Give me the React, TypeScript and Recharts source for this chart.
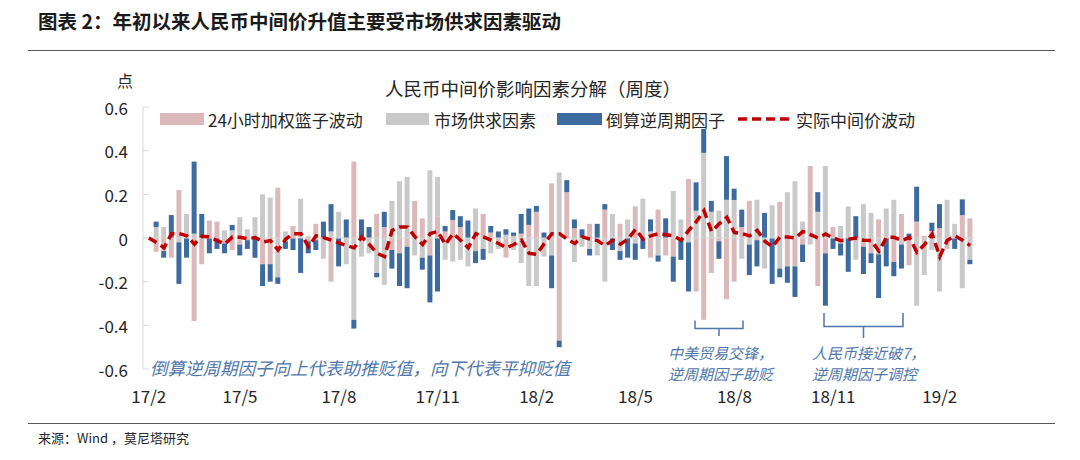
import React from "react";
import { ComposedChart, Bar, Line, XAxis, YAxis, ReferenceLine } from "recharts";

// ---- categories: weekly observations starting Feb 2017 ----
const WEEK_COUNT = 109;
const startDate = Date.UTC(2017, 1, 3);
const weeks: string[] = Array.from({ length: WEEK_COUNT }, (_, i) => {
  const d = new Date(startDate + i * 7 * 86400000);
  return `${d.getUTCFullYear()}-${String(d.getUTCMonth() + 1).padStart(2, "0")}-${String(d.getUTCDate()).padStart(2, "0")}`;
});

// ---- x tick labels and the week each label sits at ----
const xTickLabels = ["17/2", "17/5", "17/8", "17/11", "18/2", "18/5", "18/8", "18/11", "19/2"];
const xTickWeekIndex = [0, 12, 25, 38, 51, 64, 77, 90, 104];
const yTicks = [-0.6, -0.4, -0.2, 0, 0.2, 0.4, 0.6];

// ---- series ----
// 24小时加权篮子波动
const basket = [
  0, -0.063, -0.06, -0.09, 0.22, 0, -0.38, -0.12, 0.08, 0.075,
  -0.025, -0.055, -0.03, -0.01, 0, -0.12, -0.12, 0.23, -0.015, 0.055,
  0, -0.015, 0.065, 0, -0.2, 0, 0, 0.35, 0, 0,
  0.11, 0.05, -0.055, -0.07, -0.04, 0.17, 0.09, -0.08, 0.1, 0.03,
  0.082, 0.05, 0, -0.06, 0.11, 0.025, 0, -0.09, 0.01, 0.02,
  0.06, 0.12, 0, 0.25, -0.47, 0.21, 0.045, 0, 0.065, 0,
  0.13, 0, 0.065, 0, 0.145, 0, -0.09, 0.13, -0.08, -0.085,
  0, 0.27, -0.245, -0.375, -0.16, -0.015, -0.28, -0.2, 0.05, 0.17,
  -0.01, 0, 0, 0.165, -0.13, -0.13, -0.03, 0.33, -0.22, -0.07,
  0.05, -0.025, 0, 0, -0.04, -0.07, 0.085, 0, -0.11, 0.11,
  -0.125, 0.075, 0.01, 0.032, 0.045, -0.05, 0, 0.105, 0.09,
];
// 市场供求因素
const market = [
  0, 0.05, 0.05, 0, -0.02, 0.11, 0.02, 0, 0, 0,
  0.035, 0.035, 0.095, 0.04, 0.095, 0.2, 0.185, -0.18, 0.03, 0,
  0.18, 0.01, -0.01, -0.095, 0.03, 0.12, -0.12, -0.375, -0.085, -0.07,
  -0.16, -0.215, 0.17, 0.26, 0.28, -0.08, -0.09, 0.31, 0.18, -0.1,
  -0.108, -0.1, -0.13, 0.135, -0.05, -0.07, -0.05, 0.015, -0.055, -0.115,
  -0.22, -0.22, -0.085, -0.08, 0.3, 0, -0.11, -0.04, -0.05, -0.08,
  -0.2, 0.11, -0.06, 0.085, -0.025, 0.18, 0.03, -0.08, 0, 0.215,
  0.085, -0.02, 0.125, 0.39, 0.12, 0.125, 0.175, 0.174, -0.095, -0.03,
  0.175, -0.14, 0.15, -0.14, 0.21, 0.26, 0.075, -0.03, 0.12, 0.33,
  0, 0.055, 0.145, -0.1, 0.155, 0.115, -0.075, 0.135, 0.175, -0.03,
  0, -0.31, -0.17, -0.055, -0.245, 0.175, 0.065, -0.23, -0.1,
];
// 倒算逆周期因子
const counter = [
  0, 0.025, -0.03, 0.105, -0.19, -0.09, 0.33, 0.11, -0.07, -0.05,
  -0.045, 0.025, -0.05, -0.04, -0.09, -0.1, -0.08, -0.03, -0.035, -0.055,
  -0.16, -0.055, -0.045, 0.075, 0.125, -0.13, 0.085, -0.04, 0.085, 0.05,
  -0.02, 0.07, -0.085, -0.15, -0.19, 0, -0.055, -0.215, -0.245, 0.025,
  0.046, 0.05, 0.08, -0.055, -0.05, 0.03, 0.03, 0.025, 0.015, 0.09,
  0.075, 0.027, 0.025, -0.15, -0.03, 0.055, 0.04, 0.04, -0.03, 0.065,
  0.025, -0.055, -0.04, -0.09, -0.075, -0.05, 0.055, -0.028, 0.09, -0.115,
  -0.1, -0.225, 0.13, 0.11, 0.05, -0.08, 0.2, 0.052, 0.08, -0.14,
  -0.12, 0.115, -0.21, -0.04, -0.075, -0.14, -0.08, 0, 0.09, -0.24,
  -0.05, -0.055, -0.155, 0.1, -0.125, -0.045, -0.2, -0.13, -0.065, -0.11,
  0.02, 0.16, 0, 0.038, 0.11, 0, -0.05, 0.072, -0.02,
];
// 实际中间价波动
const actual = [
  0, -0.02, -0.045, 0.02, 0.02, 0.01, -0.028, 0.008, 0.005, -0.012,
  -0.028, 0.005, 0.003, -0.003, 0.002, -0.018, -0.012, -0.055, -0.005, 0.02,
  0.02, -0.04, 0.01, 0.002, -0.01, -0.022, -0.035, -0.045, 0.005, -0.03,
  -0.07, -0.085, 0.035, 0.05, 0.05, 0.005, -0.03, 0.02, 0.03, -0.03,
  0.02, -0.01, -0.045, 0.02, 0.005, -0.01, -0.025, -0.045, -0.03, -0.01,
  -0.07, -0.075, -0.025, 0.02, 0.02, -0.005, -0.025, 0.005, -0.005, -0.012,
  -0.035, -0.01, -0.028, -0.005, 0.04, -0.005, 0.01, 0.02, 0.015, 0.01,
  -0.01, 0.035, 0.075, 0.125, 0.03, 0.065, 0.095, 0.025, 0.02, 0.01,
  0.035, -0.015, -0.04, 0.005, 0.005, 0, 0.03, 0.015, 0, 0.018,
  0, -0.012, -0.006, 0, -0.01, -0.012, -0.06, 0.003, 0.003, -0.012,
  0.003, -0.065, -0.03, 0.018, -0.085, -0.01, 0.01, -0.01, -0.035,
];

const data = weeks.map((week, i) => ({
  week,
  basket: basket[i],
  market: market[i],
  counter: counter[i],
  actual: actual[i],
}));

const xTicks = xTickWeekIndex.map((i) => weeks[i]);
const xLabelOf: Record<string, string> = {};
xTickWeekIndex.forEach((wi, k) => {
  xLabelOf[weeks[wi]] = xTickLabels[k];
});

const PINK = "#dbb8b9";
const GRAY = "#c9c9c9";
const BLUE = "#3d6a9f";
const RED = "#c00000";
const ANNO = "#4f77aa";
const FONT = "'Noto Sans CJK SC', 'Noto Sans', sans-serif";
const TXT = "#262626";

const XTick = (props: any) => {
  const { x, y, payload } = props;
  return (
    <text x={x} y={y + 26} textAnchor="middle" dominantBaseline="central" fontSize={17} fill={TXT} fontFamily={FONT}>
      {xLabelOf[payload.value] ?? ""}
    </text>
  );
};

const fmtY = (v: number) => (v === 0 ? "0" : v.toFixed(1));

const YTick = (props: any) => {
  const { x, y, payload } = props;
  return (
    <g>
      <line x1={x} x2={x + 6} y1={y} y2={y} stroke="#d9d9d9" strokeWidth={1} />
      <text x={x - 15} y={y} textAnchor="end" dominantBaseline="central" fontSize={17} fill={TXT} fontFamily={FONT}>
        {fmtY(payload.value)}
      </text>
    </g>
  );
};

export default function App() {
  return (
    <div style={{ position: "absolute", left: 0, top: 0, width: 1080, height: 460, background: "#fff", fontFamily: FONT }}>
      <ComposedChart
        width={1080}
        height={460}
        data={data}
        stackOffset="sign"
        margin={{ top: 107, right: 106, bottom: 51, left: 0 }}
        barSize={5}
      >
        <XAxis
          dataKey="week"
          type="category"
          ticks={xTicks}
          interval={0}
          tick={<XTick />}
          tickLine={false}
          axisLine={false}
          tickSize={0}
          tickMargin={0}
          height={40}
          padding={{ left: 2, right: 0 }}
        />
        <YAxis
          domain={[-0.6, 0.6]}
          ticks={yTicks}
          width={143}
          axisLine={{ stroke: "#d9d9d9" }}
          tickLine={false}
          tickSize={0}
          tickMargin={0}
          tick={<YTick />}
          allowDataOverflow
        />
        <ReferenceLine y={0} stroke="#d9d9d9" strokeWidth={1} />
        <Bar dataKey="basket" stackId="s" fill={PINK} isAnimationActive={false} />
        <Bar dataKey="market" stackId="s" fill={GRAY} isAnimationActive={false} />
        <Bar dataKey="counter" stackId="s" fill={BLUE} isAnimationActive={false} />
        <Line
          dataKey="actual"
          type="linear"
          stroke={RED}
          strokeWidth={3.5}
          strokeDasharray="9 5"
          dot={false}
          activeDot={false}
          isAnimationActive={false}
        />
      </ComposedChart>

      <svg
        width={1080}
        height={460}
        style={{ position: "absolute", left: 0, top: 0, pointerEvents: "none" }}
        fontFamily={FONT}
      >
        {/* header */}
        <text x={38} y={20} dominantBaseline="central" fontSize={19.5} fontWeight={700} fill="#1a1a1a">
          图表 2：年初以来人民币中间价升值主要受市场供求因素驱动
        </text>
        <line x1={28} x2={1055} y1={50.5} y2={50.5} stroke="#595959" strokeWidth={1} />

        {/* chart title & unit */}
        <text x={533} y={88} textAnchor="middle" dominantBaseline="central" fontSize={18.5} fill={TXT}>
          人民币中间价影响因素分解（周度）
        </text>
        <text x={125} y={80} textAnchor="middle" dominantBaseline="central" fontSize={16} fill={TXT}>
          点
        </text>

        {/* legend */}
        <rect x={160} y={113} width={44} height={12} fill={PINK} />
        <text x={208} y={119} dominantBaseline="central" fontSize={17} fill={TXT}>24小时加权篮子波动</text>
        <rect x={386} y={113} width={43} height={12} fill={GRAY} />
        <text x={434} y={119} dominantBaseline="central" fontSize={17} fill={TXT}>市场供求因素</text>
        <rect x={557} y={113} width={45} height={12} fill={BLUE} />
        <text x={606} y={119} dominantBaseline="central" fontSize={17} fill={TXT}>倒算逆周期因子</text>
        <line x1={738} x2={792} y1={119} y2={119} stroke={RED} strokeWidth={3.5} strokeDasharray="9 5" />
        <text x={796} y={119} dominantBaseline="central" fontSize={17} fill={TXT}>实际中间价波动</text>

        {/* annotations */}
        <text x={150} y={367} dominantBaseline="central" fontSize={17.5} fontStyle="italic" fill={ANNO}>
          倒算逆周期因子向上代表助推贬值，向下代表平抑贬值
        </text>

        <path d="M695 320.5 V328.5 H743 V320.5 M719 328.5 V336" fill="none" stroke={ANNO} strokeWidth={1.5} />
        <text x={668} y={352} dominantBaseline="central" fontSize={15} fontStyle="italic" fill={ANNO}>中美贸易交锋，</text>
        <text x={668} y={373} dominantBaseline="central" fontSize={15} fontStyle="italic" fill={ANNO}>逆周期因子助贬</text>

        <path d="M824 313 V326.5 H903 V313 M863.5 326.5 V338" fill="none" stroke={ANNO} strokeWidth={1.5} />
        <text x={812} y={352} dominantBaseline="central" fontSize={15} fontStyle="italic" fill={ANNO}>人民币接近破7，</text>
        <text x={812} y={373} dominantBaseline="central" fontSize={15} fontStyle="italic" fill={ANNO}>逆周期因子调控</text>

        {/* footer */}
        <line x1={28} x2={1055} y1={423.5} y2={423.5} stroke="#595959" strokeWidth={1} />
        <text x={38} y={437} dominantBaseline="central" fontSize={13} fill={TXT}>来源：Wind ，莫尼塔研究</text>
      </svg>
    </div>
  );
}
